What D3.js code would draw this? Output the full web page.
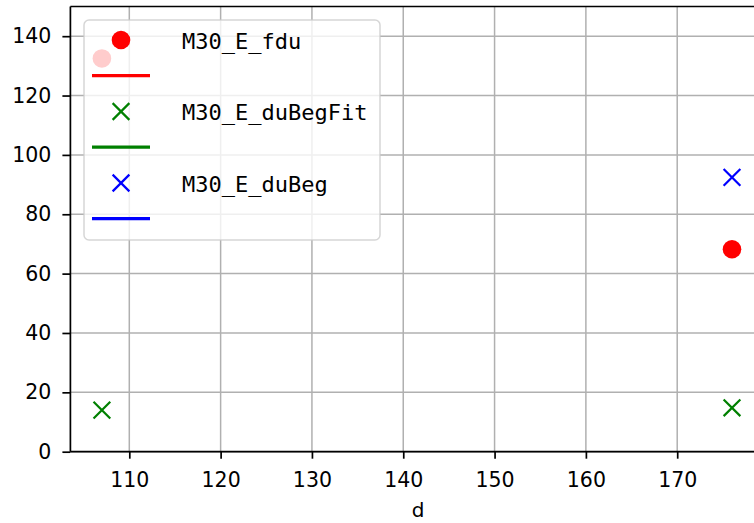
<!DOCTYPE html>
<html>
<head>
<meta charset="utf-8">
<script src="https://cdn.jsdelivr.net/npm/d3@7"></script>
<style>
  html, body { margin: 0; padding: 0; background: #fff; }
  svg { display: block; }
</style>
</head>
<body>
<svg id="chart" width="754" height="523"></svg>
<script>
// ---- data ----
const dValues = [107, 176];
const fdu = [132.5, 68.2];
const duBegFit = [14.0, 14.8];
const duBeg = [null, 92.4];
const seriesNames = ["M30_E_fdu", "M30_E_duBegFit", "M30_E_duBeg"];
const seriesColors = ["#ff0000", "#008000", "#0000ff"];
const seriesMarkers = ["circle", "x", "x"];
const xTicks = [110, 120, 130, 140, 150, 160, 170];
const yTicks = [0, 20, 40, 60, 80, 100, 120, 140];
const xLabel = "d";

// ---- layout ----
const W = 754, H = 523;
const plot = { left: 70.4, right: 763.5, top: 6.5, bottom: 451.7 };
const svg = d3.select("#chart");

const x = d3.scaleLinear().domain([103.55, 179.45]).range([plot.left, plot.right]);
const y = d3.scaleLinear().domain([0, 150]).range([plot.bottom, plot.top]);

const tickFont = "'DejaVu Sans', sans-serif";
const legendFont = "'DejaVu Sans Mono', monospace";

// grid
const grid = svg.append("g");
grid.selectAll("line.gx").data(xTicks).join("line")
  .attr("x1", d => x(d)).attr("x2", d => x(d))
  .attr("y1", plot.top).attr("y2", plot.bottom)
  .attr("stroke", "#b0b0b0").attr("stroke-width", 1.5);
grid.selectAll("line.gy").data(yTicks).join("line")
  .attr("y1", d => y(d)).attr("y2", d => y(d))
  .attr("x1", plot.left).attr("x2", plot.right)
  .attr("stroke", "#b0b0b0").attr("stroke-width", 1.5);

// data series
const series = seriesNames.map((name, i) => ({
  name, color: seriesColors[i], marker: seriesMarkers[i],
  values: [fdu, duBegFit, duBeg][i]
}));

function drawMarker(g, type, cx, cy, color, size) {
  if (type === "circle") {
    g.append("circle").attr("cx", cx).attr("cy", cy).attr("r", size)
      .attr("fill", color);
  } else {
    const s = size * 0.9;
    g.append("path")
      .attr("d", `M${cx - s},${cy - s}L${cx + s},${cy + s}M${cx - s},${cy + s}L${cx + s},${cy - s}`)
      .attr("stroke", color).attr("stroke-width", 2.2).attr("fill", "none");
  }
}

const marks = svg.append("g");
series.forEach(s => {
  s.values.forEach((v, j) => {
    if (v == null) return;
    drawMarker(marks, s.marker, x(dValues[j]), y(v), s.color, 9.3);
  });
});

// spines
svg.append("line").attr("x1", plot.left).attr("x2", plot.left)
  .attr("y1", plot.top).attr("y2", plot.bottom)
  .attr("stroke", "#000").attr("stroke-width", 1.7);
svg.append("line").attr("x1", plot.left).attr("x2", plot.right)
  .attr("y1", plot.bottom).attr("y2", plot.bottom)
  .attr("stroke", "#000").attr("stroke-width", 1.7);
svg.append("line").attr("x1", plot.left).attr("x2", plot.right)
  .attr("y1", plot.top).attr("y2", plot.top)
  .attr("stroke", "#000").attr("stroke-width", 1.7);

// axes
const xAxis = svg.append("g").attr("transform", `translate(0,${plot.bottom})`)
  .call(d3.axisBottom(x).tickValues(xTicks).tickSize(7).tickPadding(14).tickFormat(d3.format("d")));
const yAxis = svg.append("g").attr("transform", `translate(${plot.left},0)`)
  .call(d3.axisLeft(y).tickValues(yTicks).tickSize(8).tickPadding(11).tickFormat(d3.format("d")));
[xAxis, yAxis].forEach(a => {
  a.select(".domain").remove();
  a.selectAll(".tick line").attr("stroke", "#000").attr("stroke-width", 1.7);
  a.selectAll(".tick text").attr("font-family", tickFont).attr("font-size", 20.5).attr("fill", "#000");
});

svg.append("text").attr("x", 418).attr("y", 517)
  .attr("text-anchor", "middle").attr("font-family", tickFont).attr("font-size", 20)
  .attr("fill", "#000").text(xLabel);

// legend
const lg = svg.append("g");
lg.append("rect").attr("x", 84).attr("y", 20).attr("width", 296).attr("height", 220)
  .attr("rx", 5).attr("ry", 5)
  .attr("fill", "#fff").attr("fill-opacity", 0.8)
  .attr("stroke", "#cccccc").attr("stroke-opacity", 0.8).attr("stroke-width", 1.5);

series.forEach((s, i) => {
  const my = 40 + i * 71.5;
  drawMarker(lg, s.marker, 121, my, s.color, 9.3);
  lg.append("line").attr("x1", 92).attr("x2", 150)
    .attr("y1", my + 35.7).attr("y2", my + 35.7)
    .attr("stroke", s.color).attr("stroke-width", 3.3);
  lg.append("text").attr("x", 182).attr("y", my + 8.5)
    .attr("font-family", legendFont).attr("font-size", 22).attr("fill", "#000")
    .text(s.name);
});
</script>
</body>
</html>
